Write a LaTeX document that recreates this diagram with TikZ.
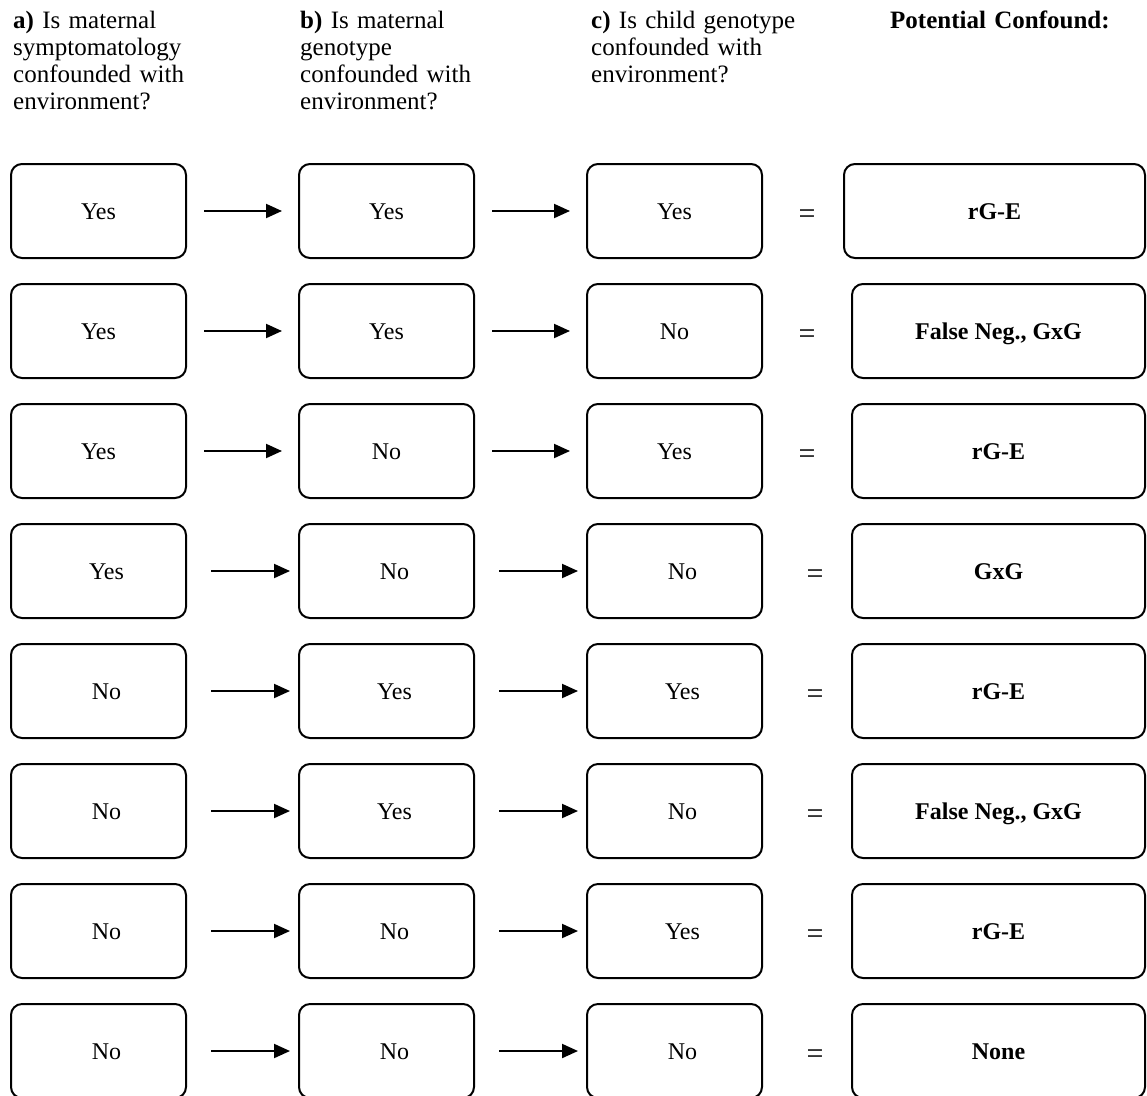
\documentclass[tikz,border=0pt]{standalone}
\usepackage{fontspec}
\setmainfont{Liberation Serif}
\usetikzlibrary{arrows.meta}
\begin{document}
\begin{tikzpicture}[x=1pt,y=-1pt,
  box/.style={draw, line width=2pt, rounded corners=11pt, minimum width=175pt, minimum height=94pt,
    inner sep=0pt, font=\fontsize{24}{28}\selectfont, text height=16pt, text depth=0pt},
  wide/.style={box, minimum width=301pt, font=\fontsize{24}{28}\selectfont\bfseries},
  wider/.style={box, minimum width=293pt, font=\fontsize{24}{28}\selectfont\bfseries},
  nudge/.style={execute at begin node={\hspace*{16pt}}},
  arr/.style={line width=2pt, -{Triangle[length=16pt,width=14pt]}},
  arrA/.style={arr, shorten <=17pt, shorten >=16pt},
  arrB/.style={arr, shorten <=24pt, shorten >=8pt},
  eq/.style={inner sep=0pt, font=\fontsize{30}{30}\selectfont},
  head/.style={anchor=base west, inner sep=0pt, align=left, text width=300pt,
    font=\fontsize{25}{27}\selectfont}
]
\useasboundingbox (0,0) rectangle (1147,1095);

% headers
\node[head] (ha) at (13,28) {\textbf{a)} Is maternal\\symptomatology\\confounded with\\environment?};
\node[head] (hb) at (300,28) {\textbf{b)} Is maternal\\genotype\\confounded with\\environment?};
\node[head] (hc) at (591,28) {\textbf{c)} Is child genotype\\confounded with\\environment?};
\node[head] (hd) at (890,28) {\textbf{Potential Confound:}};

% row 1
\node[box] (a1) at (98.5,211) {Yes};
\node[box] (b1) at (386.5,211) {Yes};
\node[box] (c1) at (674.5,211) {Yes};
\node[wide] (d1) at (994.5,211) {rG-E};
\node[eq] (e1) at (807,217) {=};
\draw[arrA] (a1) -- (b1);
\draw[arrA] (b1) -- (c1);

% row 2
\node[box] (a2) at (98.5,331) {Yes};
\node[box] (b2) at (386.5,331) {Yes};
\node[box] (c2) at (674.5,331) {No};
\node[wider] (d2) at (998.5,331) {False Neg., GxG};
\node[eq] (e2) at (807,337) {=};
\draw[arrA] (a2) -- (b2);
\draw[arrA] (b2) -- (c2);

% row 3
\node[box] (a3) at (98.5,451) {Yes};
\node[box] (b3) at (386.5,451) {No};
\node[box] (c3) at (674.5,451) {Yes};
\node[wider] (d3) at (998.5,451) {rG-E};
\node[eq] (e3) at (807,457) {=};
\draw[arrA] (a3) -- (b3);
\draw[arrA] (b3) -- (c3);

% row 4
\node[box,nudge] (a4) at (98.5,571) {Yes};
\node[box,nudge] (b4) at (386.5,571) {No};
\node[box,nudge] (c4) at (674.5,571) {No};
\node[wider] (d4) at (998.5,571) {GxG};
\node[eq] (e4) at (815,577) {=};
\draw[arrB] (a4) -- (b4);
\draw[arrB] (b4) -- (c4);

% row 5
\node[box,nudge] (a5) at (98.5,691) {No};
\node[box,nudge] (b5) at (386.5,691) {Yes};
\node[box,nudge] (c5) at (674.5,691) {Yes};
\node[wider] (d5) at (998.5,691) {rG-E};
\node[eq] (e5) at (815,697) {=};
\draw[arrB] (a5) -- (b5);
\draw[arrB] (b5) -- (c5);

% row 6
\node[box,nudge] (a6) at (98.5,811) {No};
\node[box,nudge] (b6) at (386.5,811) {Yes};
\node[box,nudge] (c6) at (674.5,811) {No};
\node[wider] (d6) at (998.5,811) {False Neg., GxG};
\node[eq] (e6) at (815,817) {=};
\draw[arrB] (a6) -- (b6);
\draw[arrB] (b6) -- (c6);

% row 7
\node[box,nudge] (a7) at (98.5,931) {No};
\node[box,nudge] (b7) at (386.5,931) {No};
\node[box,nudge] (c7) at (674.5,931) {Yes};
\node[wider] (d7) at (998.5,931) {rG-E};
\node[eq] (e7) at (815,937) {=};
\draw[arrB] (a7) -- (b7);
\draw[arrB] (b7) -- (c7);

% row 8
\node[box,nudge] (a8) at (98.5,1051) {No};
\node[box,nudge] (b8) at (386.5,1051) {No};
\node[box,nudge] (c8) at (674.5,1051) {No};
\node[wider] (d8) at (998.5,1051) {None};
\node[eq] (e8) at (815,1057) {=};
\draw[arrB] (a8) -- (b8);
\draw[arrB] (b8) -- (c8);
\end{tikzpicture}
\end{document}
